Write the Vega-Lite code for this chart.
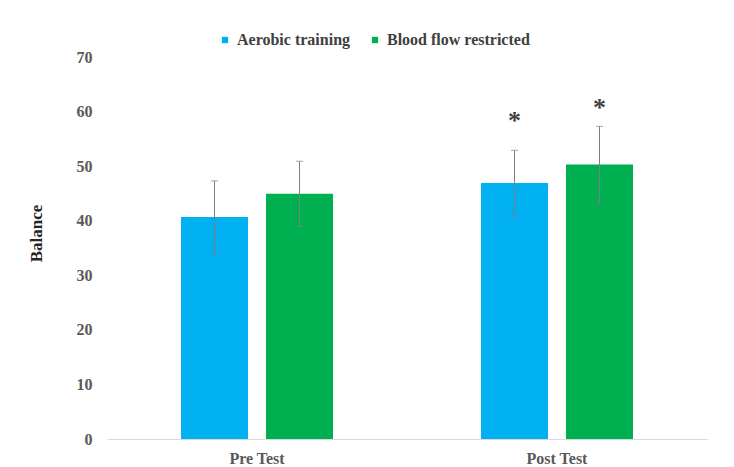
{
  "$schema": "https://vega.github.io/schema/vega-lite/v6.json",
  "width": 600,
  "height": 382,
  "autosize": {"type": "none"},
  "padding": {"left": 107, "top": 57, "right": 27, "bottom": 28},
  "background": "white",
  "config": {
    "view": {"stroke": null},
    "font": "Liberation Serif"
  },
  "data": {
    "values": [
      {"test": "Pre Test", "group": "Aerobic training", "mean": 40.7, "lo": 33.9, "hi": 47.3, "star": null},
      {"test": "Pre Test", "group": "Blood flow restricted", "mean": 44.95, "lo": 39.0, "hi": 50.9, "star": null},
      {"test": "Post Test", "group": "Aerobic training", "mean": 46.9, "lo": 40.9, "hi": 52.9, "star": 58.9},
      {"test": "Post Test", "group": "Blood flow restricted", "mean": 50.3, "lo": 43.2, "hi": 57.3, "star": 61.2}
    ]
  },
  "encoding": {
    "x": {
      "field": "test", "type": "nominal", "sort": ["Pre Test", "Post Test"],
      "scale": {"paddingInner": 0.4933, "paddingOuter": 0.2467},
      "axis": {
        "title": null, "labelAngle": 0, "ticks": false, "domainColor": "#d9d9d9", "domainWidth": 1,
        "labelFont": "Liberation Serif", "labelFontWeight": "bold", "labelFontSize": 16,
        "labelColor": "#595959", "labelPadding": 11, "grid": false
      }
    },
    "xOffset": {
      "field": "group", "type": "nominal", "sort": ["Aerobic training", "Blood flow restricted"],
      "scale": {"paddingInner": 0.2118, "paddingOuter": 0}
    }
  },
  "layer": [
    {
      "mark": {"type": "bar"},
      "encoding": {
        "y": {
          "field": "mean", "type": "quantitative",
          "scale": {"domain": [0, 70], "nice": false},
          "axis": {
            "title": "Balance", "values": [0, 10, 20, 30, 40, 50, 60, 70],
            "grid": false, "domain": false, "ticks": false,
            "labelFont": "Liberation Serif", "labelFontWeight": "bold", "labelFontSize": 16,
            "labelColor": "#595959", "labelPadding": 15,
            "titleFont": "Liberation Serif", "titleFontWeight": "bold", "titleFontSize": 17,
            "titleColor": "#262626", "titleX": -71, "titleY": 176, "titleBaseline": "middle", "titleAngle": 270
          }
        },
        "color": {
          "field": "group", "type": "nominal",
          "sort": ["Aerobic training", "Blood flow restricted"],
          "scale": {"domain": ["Aerobic training", "Blood flow restricted"], "range": ["#00B0F0", "#00B050"]},
          "legend": {
            "title": null, "orient": "none", "direction": "horizontal",
            "legendX": 110, "legendY": -25,
            "symbolType": "square", "symbolSize": 40, "symbolStrokeWidth": 0,
            "labelFont": "Liberation Serif", "labelFontWeight": "bold", "labelFontSize": 16,
            "labelColor": "#404040", "labelOffset": 4, "columnPadding": 16, "labelLimit": 300
          }
        }
      }
    },
    {
      "mark": {"type": "rule", "color": "#7f7f7f", "strokeWidth": 1},
      "encoding": {
        "y": {"field": "lo", "type": "quantitative"},
        "y2": {"field": "hi"}
      }
    },
    {
      "mark": {"type": "tick", "color": "#7f7f7f", "thickness": 1, "size": 7},
      "encoding": {"y": {"field": "lo", "type": "quantitative"}}
    },
    {
      "mark": {"type": "tick", "color": "#7f7f7f", "thickness": 1, "size": 7},
      "encoding": {"y": {"field": "hi", "type": "quantitative"}}
    },
    {
      "transform": [{"filter": "datum.star != null"}],
      "mark": {"type": "text", "text": "*", "fontSize": 26, "fontWeight": "bold", "font": "Liberation Serif", "color": "#404040", "baseline": "middle", "dy": 3},
      "encoding": {"y": {"field": "star", "type": "quantitative"}}
    }
  ]
}
